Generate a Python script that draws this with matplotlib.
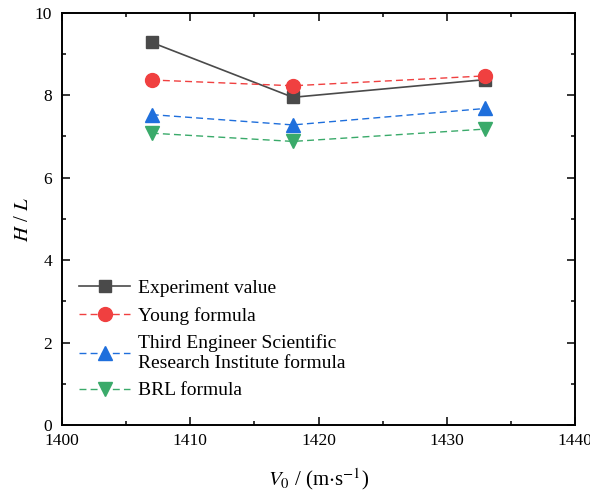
import matplotlib
matplotlib.use("Agg")
import matplotlib.pyplot as plt
from matplotlib.ticker import MultipleLocator

plt.rcParams['font.family'] = ['Liberation Serif', 'DejaVu Serif']
plt.rcParams['mathtext.fontset'] = 'stix'

x = [1407, 1418, 1433]
experiment = [9.28, 7.95, 8.38]
young = [8.37, 8.23, 8.47]
third = [7.53, 7.28, 7.68]
brl = [7.08, 6.88, 7.18]

labels = ["Experiment value", "Young formula",
          "Third Engineer Scientific\nResearch Institute formula", "BRL formula"]

fig = plt.figure(figsize=(5.9, 4.92), dpi=100)
ax = fig.add_axes([0.105, 0.136, 0.87, 0.838])

ax.plot(x, experiment, color='#4a4a4a', lw=1.2, marker='s', ms=9, label=labels[0])
ax.plot(x, young, color='#f04040', lw=1.0, ls=(0, (5, 3)), marker='o', ms=10, label=labels[1])
ax.plot(x, third, color='#1f6fdc', lw=1.0, ls=(0, (5, 3)), marker='^', ms=10, label=labels[2])
ax.plot(x, brl, color='#3aaa6a', lw=1.0, ls=(0, (5, 3)), marker='v', ms=10, label=labels[3])

ax.set_xlim(1400, 1440)
ax.set_ylim(0, 10)
ax.xaxis.set_major_locator(MultipleLocator(10))
ax.xaxis.set_minor_locator(MultipleLocator(5))
ax.yaxis.set_major_locator(MultipleLocator(2))
ax.yaxis.set_minor_locator(MultipleLocator(1))
ax.tick_params(which='both', direction='in', top=True, right=True, labelsize=12.5, width=1.1)
ax.tick_params(which='major', length=6)
ax.tick_params(which='minor', length=3)
ax.tick_params(axis='x', which='major', pad=6)
ax.tick_params(axis='y', which='major', pad=7)
for s in ax.spines.values():
    s.set_linewidth(1.4)

ax.set_xlabel(r"$V_0$ / (m$\cdot$s$^{\mathrm{-1}}$)", fontsize=15, labelpad=12)
ax.set_ylabel(r"$H$ / $L$", fontsize=15, labelpad=1)

leg = ax.legend(loc='lower left', bbox_to_anchor=(0.0, 0.02), frameon=False, fontsize=14,
                handlelength=2.6, handletextpad=0.4, labelspacing=0.5, borderaxespad=0.5)

fig.savefig("out.png", dpi=100)
